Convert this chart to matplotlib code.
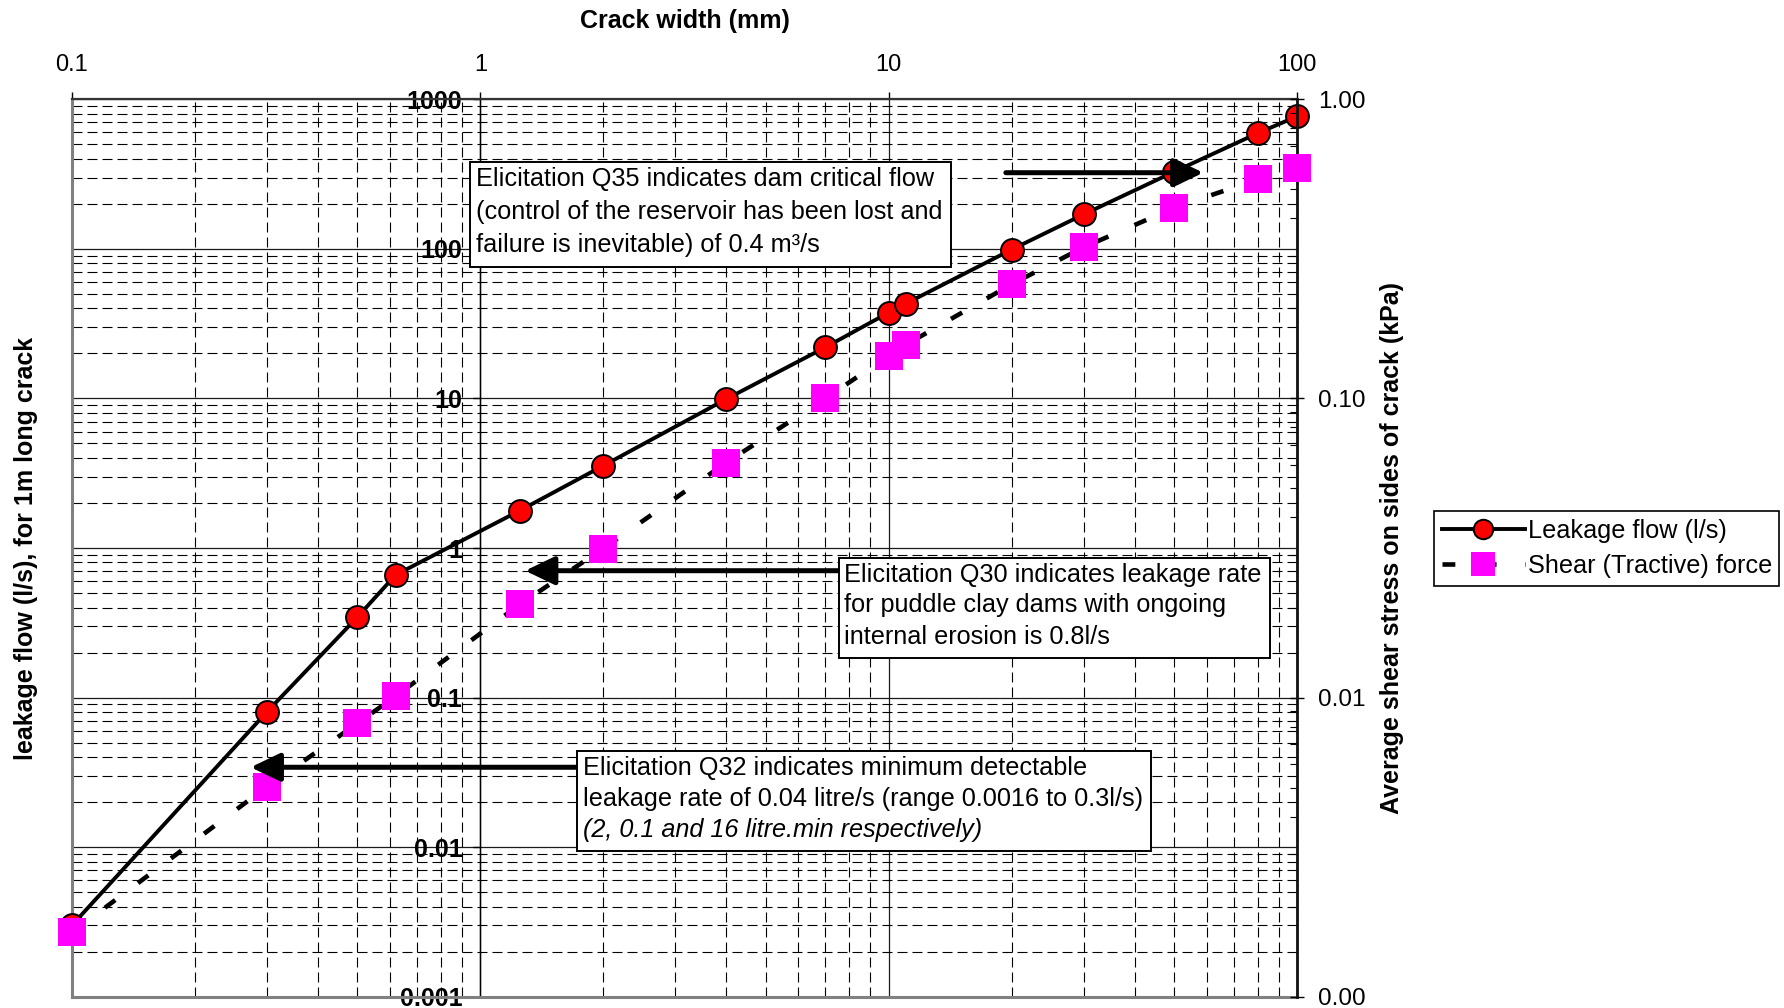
import numpy as np
import matplotlib
matplotlib.use("Agg")
import matplotlib.pyplot as plt
from matplotlib import ticker
from matplotlib.lines import Line2D
from matplotlib.patches import Rectangle

plt.rcParams['font.family'] = ['Liberation Sans', 'DejaVu Sans']

# ---- data -------------------------------------------------------------
crack_width = [0.1, 0.3, 0.5, 0.62, 1.25, 2, 4, 7, 10, 11, 20, 30, 50, 80, 100]
leakage_flow = [0.003, 0.08, 0.345, 0.66, 1.78, 3.55, 9.9, 22, 37.5, 43,
                99, 170, 328, 593, 770]
shear_stress = [0.00164, 0.00503, 0.0082, 0.0101, 0.0205, 0.0315, 0.061, 0.1,
                0.139, 0.151, 0.241, 0.32, 0.434, 0.54, 0.59]

x_ticks = [0.1, 1, 10, 100]
flow_ticks = [0.001, 0.01, 0.1, 1, 10, 100, 1000]
shear_ticks = [0.001, 0.01, 0.1, 1]

# annotation arrows: (tail crack width, head crack width, flow level)
q35_arrow = (19.35, 58.9, 323)
q30_arrow = (7.54, 1.287, 0.705)
q32_arrow = (1.718, 0.274, 0.0342)

q35_text = ["Elicitation Q35 indicates dam critical flow",
            "(control of the reservoir has been lost and",
            "failure is inevitable) of 0.4 m\u00b3/s"]
q30_text = ["Elicitation Q30 indicates leakage rate",
            "for puddle clay dams with ongoing",
            "internal erosion is 0.8l/s"]
q32_text = ["Elicitation Q32 indicates minimum detectable",
            "leakage rate of 0.04 litre/s (range 0.0016 to 0.3l/s)",
            "(2, 0.1 and 16 litre.min respectively)"]

# ---- figure ------------------------------------------------------------
W, H = 1784, 1008
fig = plt.figure(figsize=(W / 100, H / 100), dpi=100)


def fx(px):
    return px / W


def fy(py):
    return 1 - py / H


left_px, right_px, top_px, bot_px = 71.9, 1297.2, 99.3, 996.7
ax = fig.add_axes([fx(left_px), fy(bot_px), (right_px - left_px) / W,
                   (bot_px - top_px) / H])
ax.set_xscale('log')
ax.set_yscale('log')
ax.set_xlim(0.1, 100)
ax.set_ylim(0.001, 1000)

ax.xaxis.set_major_locator(ticker.FixedLocator(x_ticks))
ax.xaxis.set_minor_locator(ticker.LogLocator(base=10, subs=np.arange(2, 10),
                                             numticks=100))
ax.yaxis.set_major_locator(ticker.FixedLocator(flow_ticks))
ax.yaxis.set_minor_locator(ticker.LogLocator(base=10, subs=np.arange(2, 10),
                                             numticks=100))
ax.xaxis.set_major_formatter(ticker.FuncFormatter(lambda v, p: f"{v:g}"))
ax.yaxis.set_major_formatter(ticker.FuncFormatter(lambda v, p: f"{v:g}"))
ax.xaxis.set_minor_formatter(ticker.NullFormatter())
ax.yaxis.set_minor_formatter(ticker.NullFormatter())

ax.grid(which='major', color='#1a1a1a', lw=0.9, ls='-')
ax.grid(which='minor', color='black', lw=0.8, ls=(0, (9, 4.5)))
ax.set_axisbelow(True)

# vertical axis crosses at crack width = 1
ax.spines['left'].set_position(('data', 1))
ax.spines['left'].set_color('black')
ax.spines['left'].set_linewidth(1.0)
ax.spines['right'].set_visible(False)
ax.spines['top'].set_color('#333333')
ax.spines['top'].set_linewidth(1.6)
ax.spines['bottom'].set_color('#808080')
ax.spines['bottom'].set_linewidth(2.2)
ax.add_line(Line2D([0, 0], [0, 1], transform=ax.transAxes, color='#808080',
                   lw=2.2, clip_on=False, zorder=2.5))

ax.xaxis.tick_top()
ax.xaxis.set_label_position('top')
ax.tick_params(axis='x', which='major', direction='out', length=5, width=1,
               labelsize=17, pad=11.5)
ax.tick_params(axis='x', which='minor', length=0)
ax.tick_params(axis='y', which='major', direction='out', length=5, width=1,
               labelsize=18, pad=8)
ax.tick_params(axis='y', which='minor', length=0)
for lab in ax.get_yticklabels():
    lab.set_fontweight('bold')

ax.set_xlabel("Crack width (mm)", fontsize=18, fontweight='bold')
ax.xaxis.set_label_coords(0.5, (bot_px - 28.3) / (bot_px - top_px))
ax.set_ylabel("leakage flow (l/s), for 1m long crack", fontsize=18,
              fontweight='bold')
ax.yaxis.set_label_coords((38.5 - left_px) / (right_px - left_px), 0.5)

h_flow, = ax.plot(crack_width, leakage_flow, '-', color='black', lw=2.8,
                  marker='o', ms=16.5, mfc='#ff0000', mec='black', mew=1.4,
                  clip_on=False, zorder=3, label='Leakage flow (l/s)')

# secondary axis: shear stress
ax2 = ax.twinx()
ax2.set_yscale('log')
ax2.set_ylim(0.001, 1)
ax2.yaxis.set_major_locator(ticker.FixedLocator(shear_ticks))
ax2.yaxis.set_minor_locator(ticker.LogLocator(base=10, subs=np.arange(2, 10),
                                              numticks=100))
ax2.yaxis.set_major_formatter(ticker.FuncFormatter(lambda v, p: f"{v:.2f}"))
ax2.yaxis.set_minor_formatter(ticker.NullFormatter())
for side in ('left', 'top', 'bottom'):
    ax2.spines[side].set_visible(False)
ax2.spines['right'].set_color('#111111')
ax2.spines['right'].set_linewidth(2.0)
ax2.tick_params(axis='y', which='major', direction='inout', length=10,
                width=1, labelsize=17.5, pad=10)
ax2.tick_params(axis='y', which='minor', direction='in', length=5, width=0.8)
ax2.set_ylabel("Average shear stress on sides of crack (kPa)", fontsize=18,
               fontweight='bold')
ax2.yaxis.set_label_coords((1380 - left_px) / (right_px - left_px), 0.5)

h_shear, = ax2.plot(crack_width, shear_stress, color='black', lw=3.3,
                    ls=(0, (2.8, 6.2)), dash_capstyle='butt', marker='s',
                    ms=19.5, mfc='#ff00ff', mec='#ff00ff', mew=0,
                    clip_on=False, zorder=3,
                    label='Shear (Tractive) force')

# arrows pointing at flow levels
arrow_style = dict(arrowstyle='-|>,head_length=0.75,head_width=0.36',
                   mutation_scale=24, lw=3.6, color='black',
                   shrinkA=0, shrinkB=0)
for x0, x1, yv in (q35_arrow, q30_arrow, q32_arrow):
    ax2.annotate('', xy=(x1, yv), xycoords=ax.transData,
                 xytext=(x0, yv), textcoords=ax.transData,
                 arrowprops=arrow_style, zorder=4)


# text boxes
def text_box(x0, y0, x1, y1, tx, centers, lines, italic_last=False):
    fig.add_artist(Rectangle((fx(x0), fy(y1)), (x1 - x0) / W, (y1 - y0) / H,
                             transform=fig.transFigure, facecolor='white',
                             edgecolor='black', lw=1.4, zorder=5))
    for i, (yc, line) in enumerate(zip(centers, lines)):
        style = 'italic' if (italic_last and i == len(lines) - 1) else 'normal'
        fig.text(fx(tx), fy(yc), line, fontsize=18.2, style=style,
                 ha='left', va='center', zorder=6)


text_box(470, 161.6, 951.2, 267.4, 475.6, [178.6, 211.5, 244.6], q35_text)
text_box(838.6, 557.5, 1269.8, 657.6, 844.2, [574.6, 605.3, 637.2], q30_text)
text_box(576.5, 751, 1151, 851, 582.6, [767.5, 799, 830], q32_text,
         italic_last=True)

leg = ax2.legend(handles=[h_flow, h_shear],
                 labels=['Leakage flow (l/s)', 'Shear (Tractive) force'],
                 loc='upper left', bbox_to_anchor=(fx(1434), fy(511)),
                 bbox_transform=fig.transFigure, fontsize=18.2,
                 frameon=True, fancybox=False, shadow=False, framealpha=1,
                 edgecolor='black', handlelength=3.3, handletextpad=0.1,
                 borderpad=0.3, labelspacing=0.45, borderaxespad=0,
                 markerscale=0.85)
leg.get_frame().set_linewidth(1.2)

fig.savefig('out.png', dpi=100, facecolor='white')
